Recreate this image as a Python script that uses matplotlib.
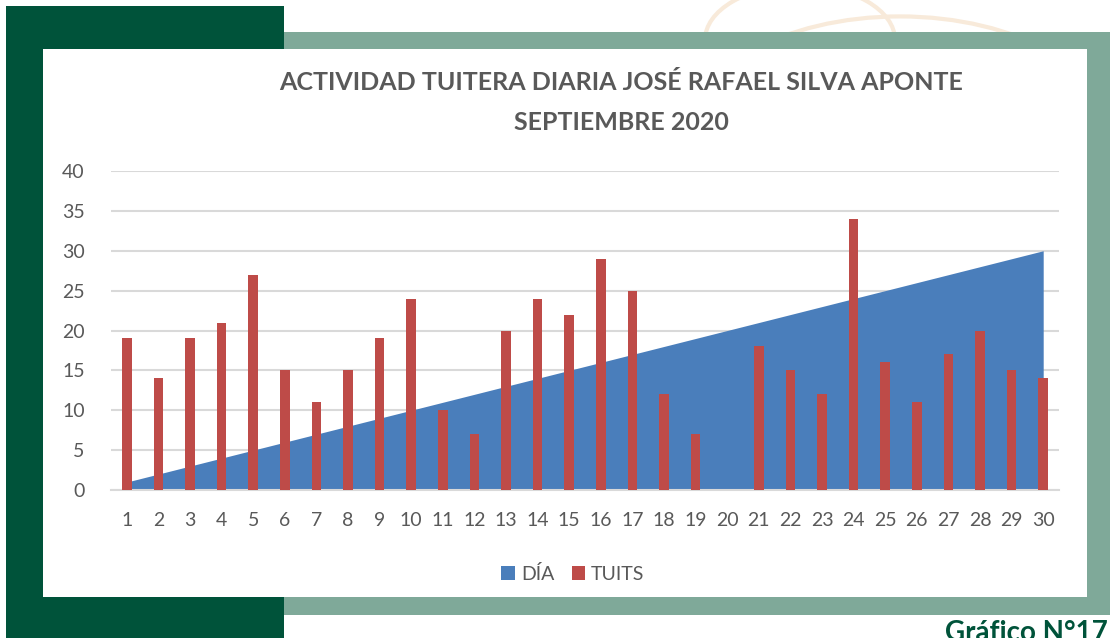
import matplotlib
matplotlib.use("Agg")
import matplotlib.pyplot as plt
from matplotlib.patches import Rectangle, Patch, Circle

days = list(range(1, 31))
dia = list(range(1, 31))
tuits = [19, 14, 19, 21, 27, 15, 11, 15, 19, 24, 10, 7, 20, 24, 22,
         29, 25, 12, 7, 0, 18, 15, 12, 34, 16, 11, 17, 20, 15, 14]
yticks = [0, 5, 10, 15, 20, 25, 30, 35, 40]
title_lines = ["ACTIVIDAD TUITERA DIARIA JOSÉ RAFAEL SILVA APONTE", "SEPTIEMBRE 2020"]
legend_labels = ["DÍA", "TUITS"]
footer = "Gráfico N°17"

W, H = 1110, 638
BLUE = "#4A7EBB"
RED = "#BE4B48"
DKGREEN = "#00533A"
LTGREEN = "#7FA999"
GRAY = "#595959"
FONT = ["Lato", "DejaVu Sans"]

fig = plt.figure(figsize=(W / 100, H / 100), dpi=100)
fig.patch.set_facecolor("white")


def rect(x0, y0, x1, y1, color, z):
    fig.add_artist(Rectangle((x0 / W, 1 - y1 / H), (x1 - x0) / W, (y1 - y0) / H,
                             transform=fig.transFigure, facecolor=color,
                             edgecolor="none", zorder=z))

# faint decorative arcs
for cx, cy, r in [(900, 140, 215), (800, 40, 95), (1060, 170, 120)]:
    fig.add_artist(Circle((cx / W, 1 - cy / H), r / W, transform=fig.transFigure,
                          facecolor="none", edgecolor="#F8EADA", linewidth=3, zorder=-3))

rect(284, 32, 1110, 615, LTGREEN, -2)
rect(6, 6, 284, 638, DKGREEN, -1)
rect(43, 49, 1087, 597, "white", 0)

ax = fig.add_axes([111 / W, (H - 490) / H, (1059 - 111) / W, (490 - 171) / H])
ax.set_facecolor("none")
ax.set_zorder(1)

ax.fill_between(days, dia, 0, color=BLUE, linewidth=0, zorder=2)
ax.bar(days, tuits, width=0.3, color=RED, zorder=3)

ax.set_xlim(0.5, 30.5)
ax.set_ylim(0, 40)
ax.set_yticks(yticks)
ax.set_xticks(days)
ax.set_xticklabels([str(d) for d in days])
ax.grid(axis="y", color="#D9D9D9", linewidth=1.5, zorder=0)
ax.set_axisbelow(True)
for s in ["top", "right", "left"]:
    ax.spines[s].set_visible(False)
ax.spines["bottom"].set_color("#D9D9D9")
ax.spines["bottom"].set_linewidth(1.5)
ax.tick_params(axis="both", length=0, labelcolor=GRAY, labelsize=14)
ax.tick_params(axis="x", pad=16)
ax.tick_params(axis="y", pad=19)
for lab in ax.get_xticklabels() + ax.get_yticklabels():
    lab.set_family(FONT)

fig.text(621 / W, 1 - 83 / H, title_lines[0], ha="center", va="center",
         fontsize=18, fontweight="bold", color=GRAY, family=FONT)
fig.text(621 / W, 1 - 122 / H, title_lines[1], ha="center", va="center",
         fontsize=18, fontweight="bold", color=GRAY, family=FONT)

handles = [Patch(facecolor=BLUE), Patch(facecolor=RED)]
fig.legend(handles, legend_labels, loc="center", bbox_to_anchor=(573 / W, 1 - 574 / H),
           ncol=2, frameon=False, handlelength=0.7, handleheight=0.7,
           handletextpad=0.3, columnspacing=0.9,
           prop={"family": FONT, "size": 14}, labelcolor=GRAY)

fig.text(945 / W, 1 - 620 / H, footer, ha="left", va="top", fontsize=20,
         fontweight="bold", color=DKGREEN, family=FONT)

fig.savefig("out.png", dpi=100)
